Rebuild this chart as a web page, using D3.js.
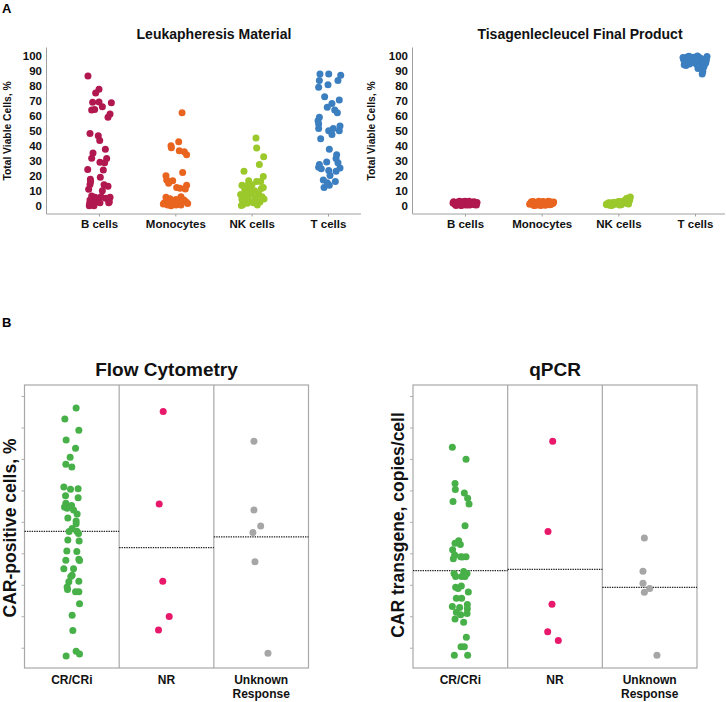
<!DOCTYPE html>
<html><head><meta charset="utf-8">
<script src="https://cdn.jsdelivr.net/npm/d3@7"></script>
<style>body{margin:0;background:#fff}svg{display:block}text{font-family:Arial,"Liberation Sans",sans-serif}</style>
</head><body>
<script>
// ---------- Panel A data ----------
const cellTypes = ["B cells","Monocytes","NK cells","T cells"];
const cellColors = ["#b0184f","#e8641f","#9bc82b","#3c7fc0"];
const yTicksA = [0,10,20,30,40,50,60,70,80,90,100];

// Leukapheresis material: values (%) and horizontal jitter (-1..1)
const leukB = [86.5,77.6,75.1,68.9,69.1,68.7,66.0,63.8,64.2,61.1,58.9,48.2,46.7,43.4,37.6,35.1,31.6,31.4,29.0,28.7,24.2,23.8,17.6,18.9,14.2,14.0,12.9,10.9,10.0,6.5,5.6,6.0,5.6,3.8,3.8,4.9,2.7,1.6,0.7,2.7,2.0,2.0,0,0,16.2];
const leukBJit = [-0.92,0,-0.28,-0.53,0,1.03,0.28,-0.61,-0.36,0.92,0.75,-0.75,-0.06,0.06,0.53,-0.5,-0.61,0.64,0.08,0.47,-0.94,0.36,-0.72,0.11,-0.75,0.42,0.75,-0.86,0.28,-0.61,-0.33,0.17,0.92,-0.75,-0.19,0.56,0.86,-0.78,-0.64,-0.33,0.08,0.81,-0.81,-0.42,-0.7];
const leukMono = [62.0,42.7,40.0,38.7,36.7,36.0,34.0,22.2,20.0,17.1,16.7,14.9,12.2,11.6,13.6,11.1,5.6,4.7,4.2,6.0,3.8,2.0,2.0,2.0,2.7,2.7,1.1,0.5,0.5,0.5,0,1.5,3.5];
const leukMonoJit = [0.56,0.28,-0.36,-0.33,0.33,0.75,0.94,0.61,-0.78,-0.72,-0.22,-0.56,0.11,0.39,0.94,0.83,-0.78,-0.44,0.06,0.47,0.72,-0.92,-0.5,-0.17,0.19,0.89,-1.0,-0.64,0.06,0.47,-0.36,1.03,0.28];
const leukNK = [45.1,38.5,32.7,27.4,22.9,19.4,16.7,16.2,16.2,13.6,13.1,14.0,12.2,11.4,10.9,10.5,10.0,7.4,7.8,7.8,7.8,6.0,4.2,5.1,5.1,0.7,1.6,2.0,2.5,0.2,3.5,0.5,9.0,3.0,4.5];
const leukNKJit = [0.36,0.42,1.0,0.64,-0.64,0.97,-0.25,0.42,0.75,-0.81,-0.47,0.03,0.97,0.81,-0.58,-0.19,0.25,-0.92,-0.47,-0.03,0.58,0.86,-0.81,-0.31,0.31,-0.75,-0.36,0.14,0.69,-0.86,-0.25,0.47,-0.08,-0.53,1.03];
const leukT = [87.8,87.8,86.9,83.4,83.4,78.9,80.7,72.7,70.5,68.2,65.6,63.8,62.0,58.9,56.7,53.1,54.5,50.0,50.0,51.4,51.4,47.4,44.7,37.6,34.0,31.4,29.1,27.4,28.7,25.6,24.7,25.1,23.4,22.9,20.2,17.1,15.3,16.2,12.2,13.6];
const leukTJit = [-0.67,0.06,1.06,-0.72,0.83,-0.78,0,-0.28,0.94,0.33,-0.06,0.56,0.78,-0.72,-0.83,1.0,-0.78,0.94,0.06,0.44,-0.78,0.33,-0.61,0.11,0.72,0.67,-0.11,-0.72,0.83,-0.78,-0.56,1.0,0.06,0.67,0.17,-0.39,-0.06,0.61,-0.33,0.11];

// Final product: one shared jitter pattern
const finalJit = [-0.95,-0.7,-0.45,-0.2,0.05,0.3,0.55,0.8,1.0,-0.85,-0.6,-0.35,-0.1,0.15,0.4,0.65,0.9,-1.0,-0.75,-0.5,-0.25,0.0,0.25,0.5,0.75,0.95,-0.9,-0.55,-0.3,0.1,0.35,0.6,0.85,-0.65,0.2,0.7];
const finalB = [2.6,0.8,2.9,1.2,0.4,2.7,1.5,0.6,2.2,0.9,2.4,0.3,2.8,1.1,0.5,2.3,1.4,1.8,0.2,2.5,1.0,2.9,0.7,1.9,2.6,0.4,1.6,1.3,0.1,2.0,2.9,1.7,0.9,2.1,0.6,1.2];
const finalMono = [1.4,2.8,0.5,2.2,1.7,0.3,2.9,1.1,2.4,2.6,0.7,1.9,0.2,2.7,1.3,0.6,2.1,0.9,2.3,1.5,2.9,0.4,1.8,2.5,0.8,1.6,2.0,0.3,1.2,2.8,0.6,2.2,1.4,0.1,1.0,2.6];
const finalNK = [0.6,1.4,2.2,1.1,2.8,2.0,3.6,2.4,5.8,1.8,0.4,1.6,2.5,0.9,3.0,4.2,3.2,0.9,2.0,0.3,1.3,1.9,0.7,2.6,1.5,3.9,1.2,0.8,2.1,0.5,1.8,2.9,1.1,0.2,2.7,5.0];
const finalT = [97.5,99.0,94.5,98.5,96.0,99.2,93.8,97.0,99.5,95.0,98.0,96.5,99.0,94.2,97.8,89.5,95.5,98.8,93.5,99.6,96.8,95.2,91.5,98.2,93.0,97.3,94.0,99.3,97.2,95.8,98.6,87.8,94.8,96.2,99.8,92.2];

// ---------- Panel B data ----------
const responses = ["CR/CRi","NR","Unknown Response"];
const responseColors = ["#47b048","#e8196b","#a6a6a6"];
const yTicksB = [0,1,2,3,4,5,6,7,8];

const flowCR = [7.62,7.27,6.91,6.60,6.34,6.05,5.83,5.74,5.11,5.04,5.05,4.83,4.77,4.59,4.47,4.52,4.43,4.38,4.25,4.12,4.03,3.94,3.79,3.69,3.70,3.63,3.42,3.39,3.07,3.06,2.78,2.81,2.77,2.51,2.51,2.30,2.26,2.10,2.11,1.93,1.85,1.78,1.78,1.40,1.03,0.55,-0.11,-0.26,-0.20];
const flowCRJit = [0.43,-0.7,0.7,-0.57,0.37,-0.17,-0.6,0,-0.8,-0.13,0.63,-0.63,0.63,-0.6,-0.73,-0.03,-0.47,0.17,0.53,-0.4,0.43,0.43,0.03,-0.27,0.5,0.67,-0.4,0.73,-0.5,0.5,-0.6,0.7,0.77,-0.8,0.17,0.03,-0.1,-0.3,0.7,-0.47,-0.43,0.37,0.7,0.77,0.03,0.1,0.43,-0.57,0.77];
const flowNR = [7.51,4.57,2.11,0.99,0.56];
const flowNRJit = [-0.33,-0.73,-0.37,0.27,-0.8];
const flowUnk = [6.56,4.38,3.87,3.66,2.73,-0.18];
const flowUnkJit = [-0.72,-0.72,-0.05,-0.82,-0.62,0.68];
const flowMedians = [3.70,3.18,3.52];

const qpcrCR = [6.37,5.99,5.22,5.03,4.92,4.75,4.65,4.57,3.88,3.40,3.32,3.28,3.11,2.95,2.83,2.89,2.89,2.88,2.36,2.42,2.36,2.26,2.26,2.26,1.92,1.96,1.88,1.77,1.57,1.57,1.31,1.28,1.37,1.24,1.13,1.05,1.09,0.91,0.81,0.33,0.03,0.03,-0.24,-0.24];
const qpcrCRJit = [-0.8,0.57,-0.53,-0.5,0.4,0.73,-0.73,0.87,0.47,-0.17,-0.53,0,-0.77,-0.57,-0.7,0.57,0.03,0.2,-0.63,0.33,0.67,-0.47,0.13,0.47,-0.47,0.1,-0.23,0.8,-0.4,0.13,-0.8,-0.07,0.7,0.7,-0.4,0.03,0.67,-0.53,0.33,0.6,0.07,0.4,-0.6,0.73];
const qpcrNR = [6.56,3.69,1.38,0.51,0.23];
const qpcrNRJit = [-0.23,-0.7,-0.3,-0.73,0.33];
const qpcrUnk = [3.49,2.43,2.05,1.88,1.76,-0.24];
const qpcrUnkJit = [-0.53,-0.67,-0.67,0,-0.53,0.73];
const qpcrMedians = [2.45,2.49,1.92];

// ---------- drawing ----------
const W = 726, H = 702;
const svg = d3.select("body").append("svg").attr("width", W).attr("height", H);
const FONT = 'Arial,"Liberation Sans",sans-serif';

svg.append("text").attr("x", 2).attr("y", 13).attr("font-weight","bold").attr("font-size",13).text("A");
svg.append("text").attr("x", 2).attr("y", 327).attr("font-weight","bold").attr("font-size",13).text("B");

const yA = d3.scaleLinear().domain([0,100]).range([205.7,55.7]);

function panelA(cfg) {
  const g = svg.append("g");
  const x = d3.scalePoint().domain(cellTypes).range(cfg.xRange);
  g.append("line").attr("x1", cfg.axisX).attr("x2", cfg.axisX).attr("y1", 47.5).attr("y2", 214)
    .attr("stroke","#a0a0a0").attr("stroke-width",1);
  g.append("line").attr("x1", cfg.axisX).attr("x2", cfg.xEnd).attr("y1", 214).attr("y2", 214)
    .attr("stroke","#a0a0a0").attr("stroke-width",1);
  const ya = g.append("g").attr("transform",`translate(${cfg.axisX},0)`)
    .call(d3.axisLeft(yA).tickValues(yTicksA).tickSize(0).tickPadding(4.5));
  ya.select(".domain").remove();
  ya.selectAll("text").attr("font-family",FONT).attr("font-size",11.5).attr("font-weight","bold").attr("fill","#111");
  const xa = g.append("g").attr("transform","translate(0,214)")
    .call(d3.axisBottom(x).tickSize(2.5).tickPadding(3.5));
  xa.select(".domain").remove();
  xa.selectAll("line").attr("stroke","#a0a0a0");
  xa.selectAll("text").attr("font-family",FONT).attr("font-size",11.5).attr("font-weight","bold").attr("fill","#111");
  g.append("text").attr("x", cfg.titleX).attr("y", 38.5).attr("text-anchor","middle")
    .attr("font-weight","bold").attr("font-size",14).attr("fill","#111").text(cfg.title);
  g.append("text").attr("transform",`translate(${cfg.yTitleX},131) rotate(-90)`).attr("text-anchor","middle")
    .attr("dominant-baseline","central").attr("font-weight","bold").attr("font-size",10.3).attr("fill","#111")
    .text("Total Viable Cells, %");
  cfg.series.forEach((s, i) => {
    g.append("g").selectAll("circle").data(s.values.map((v, k) => ({v, j: s.jit[k]}))).join("circle")
      .attr("cx", d => x(cellTypes[i]) + d.j * 12)
      .attr("cy", d => yA(d.v))
      .attr("r", 3.5)
      .attr("fill", cellColors[i]);
  });
}

panelA({xRange:[99,328], axisX:46.5, xEnd:361, titleX:214, yTitleX:7.5, title:"Leukapheresis Material",
  series:[{values:leukB,jit:leukBJit},{values:leukMono,jit:leukMonoJit},{values:leukNK,jit:leukNKJit},{values:leukT,jit:leukTJit}]});
panelA({xRange:[465,695], axisX:412.5, xEnd:725, titleX:580, yTitleX:371.5, title:"Tisagenlecleucel Final Product",
  series:[{values:finalB,jit:finalJit},{values:finalMono,jit:finalJit},{values:finalNK,jit:finalJit},{values:finalT,jit:finalJit}]});

const yB = d3.scaleLinear().domain([-0.645, 8.35]).range([668, 385]);

function panelB(cfg) {
  const g = svg.append("g");
  const x = d3.scaleBand().domain(responses).range(cfg.xRange).padding(0);
  const top = yB.range()[1], bot = yB.range()[0];
  const ya = g.append("g").attr("transform",`translate(${cfg.xRange[0]},0)`)
    .call(d3.axisLeft(yB).tickValues(yTicksB).tickSize(3).tickFormat(""));
  ya.select(".domain").remove();
  ya.selectAll("line").attr("stroke","#b0b0b0");
  g.append("rect").attr("x", cfg.xRange[0]).attr("y", top).attr("width", cfg.xRange[1]-cfg.xRange[0])
    .attr("height", bot-top).attr("fill","none").attr("stroke","#a8a8a8").attr("stroke-width",1.2);
  responses.slice(1).forEach(r => {
    g.append("line").attr("x1", x(r)).attr("x2", x(r)).attr("y1", top).attr("y2", bot)
      .attr("stroke","#a8a8a8").attr("stroke-width",1.2);
  });
  responses.forEach((r, i) => {
    g.append("line").attr("x1", x(r)).attr("x2", x(r)+x.bandwidth())
      .attr("y1", yB(cfg.medians[i])).attr("y2", yB(cfg.medians[i]))
      .attr("stroke","#222").attr("stroke-width",1.2).attr("stroke-dasharray","1.4,1");
  });
  cfg.series.forEach((s, i) => {
    g.append("g").selectAll("circle").data(s.values.map((v,k)=>({v, j:s.jit[k]}))).join("circle")
      .attr("cx", d => x(responses[i]) + x.bandwidth()/2 + d.j*10)
      .attr("cy", d => yB(d.v))
      .attr("r", 3.5)
      .attr("fill", responseColors[i]);
  });
  responses.forEach(r => {
    const words = r === "Unknown Response" ? ["Unknown","Response"] : [r];
    words.forEach((w, k) => {
      g.append("text").attr("x", x(r)+x.bandwidth()/2).attr("y", 683.5 + k*14).attr("text-anchor","middle")
        .attr("font-weight","bold").attr("font-size",12).attr("fill","#111").text(w);
    });
  });
  g.append("text").attr("x", (cfg.xRange[0]+cfg.xRange[1])/2).attr("y", 376).attr("text-anchor","middle")
    .attr("font-weight","bold").attr("font-size",19).attr("fill","#111").text(cfg.title);
  g.append("text").attr("transform",`translate(${cfg.yTitleX},${cfg.yTitleY}) rotate(-90)`).attr("text-anchor","middle")
    .attr("dominant-baseline","central").attr("font-weight","bold").attr("font-size",17.5).attr("fill","#111")
    .text(cfg.yTitle);
}

panelB({xRange:[24.5,308.5], title:"Flow Cytometry", yTitle:"CAR-positive cells, %", yTitleX:10, yTitleY:528,
  medians: flowMedians,
  series:[{values:flowCR,jit:flowCRJit},{values:flowNR,jit:flowNRJit},{values:flowUnk,jit:flowUnkJit}]});
panelB({xRange:[413,697], title:"qPCR", yTitle:"CAR transgene, copies/cell", yTitleX:398, yTitleY:525,
  medians: qpcrMedians,
  series:[{values:qpcrCR,jit:qpcrCRJit},{values:qpcrNR,jit:qpcrNRJit},{values:qpcrUnk,jit:qpcrUnkJit}]});
</script>
</body></html>
